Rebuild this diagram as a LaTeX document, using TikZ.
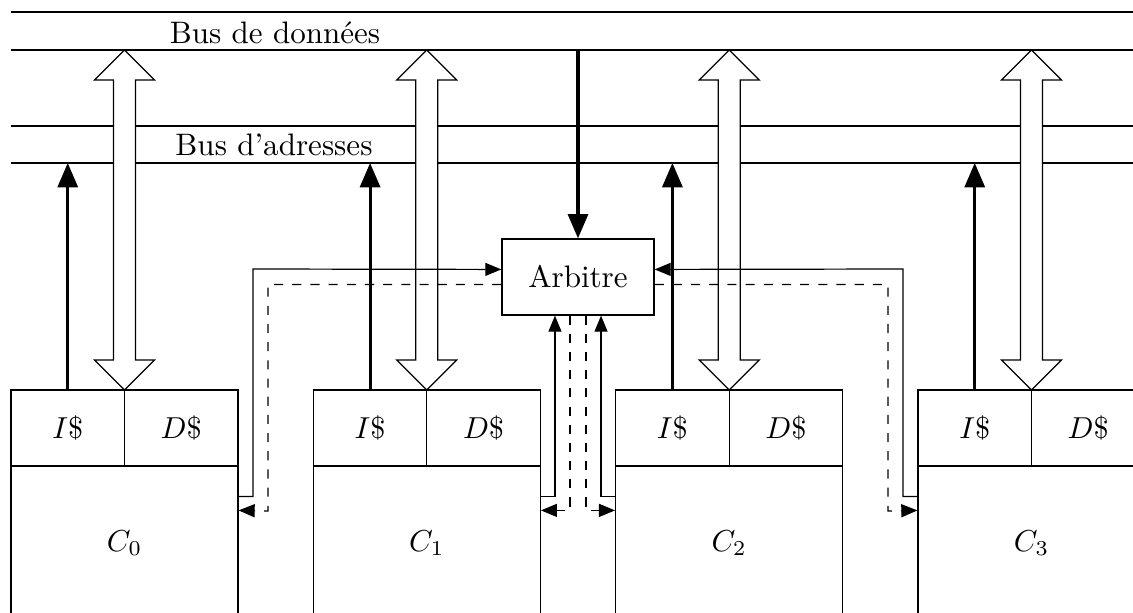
\documentclass[tikz,border=0pt]{standalone}
\usetikzlibrary{arrows.meta,calc}
\begin{document}
\begin{tikzpicture}[x=0.33pt,y=-0.33pt,
  every node/.style={font=\fontsize{10.25pt}{12pt}\selectfont},
  cell/.style={draw, minimum width=37.46pt, minimum height=25.08pt, inner sep=0pt},
  core/.style={draw, minimum width=74.91pt, minimum height=50.82pt, inner sep=0pt},
  bigarrow/.style={draw, fill=white},
  addr/.style={line width=1pt, -{Triangle[length=8pt,width=6.6pt]}},
  ctrl/.style={-{Triangle[length=5.3pt,width=4.3pt]}},
  buslabel/.style={anchor=base, inner sep=0pt}]
\useasboundingbox (0,0) rectangle (1133,612);
\clip (0,0) rectangle (1133,612);
\fill[white] (0,0) rectangle (1133,612);

% data bus and address bus
\draw (11,12) -- (1140,12);
\draw (11,50) -- (1140,50);
\draw (11,126) -- (1140,126);
\draw (11,163) -- (1140,163);
\node[buslabel] (dlabel) at (275,43) {Bus de données};
\node[buslabel] (alabel) at (274,155) {Bus d'adresses};
\coordinate (abus) at (0,163);
\coordinate (dtap) at (578,50);

% arbiter
\node[draw, minimum width=50.2pt, minimum height=25.1pt] (arb) at (578,277) {Arbitre};

% four cores with their instruction and data caches
\foreach \i in {0,...,3} {
  \pgfmathsetmacro\L{11+302.33*\i}
  \node[cell] (I\i) at (\L+56.75,428) {$I\$$};
  \node[cell] (D\i) at (\L+170.25,428) {$D\$$};
  \node[core] (C\i) at (\L+113.5,543) {$C_\i$};
  % data bus link
  \draw[bigarrow] (\L+113.5,50) -- ++(30,30) -- ++(-19,0) -- ++(0,280) -- ++(19,0)
    -- ++(-30,30) -- ++(-30,-30) -- ++(19,0) -- ++(0,-280) -- ++(-19,0) -- cycle;
  % address bus link
  \draw[addr] (I\i.north) -- (I\i.north |- abus);
}

% arbiter fed from the data bus
\draw[addr] (dtap) -- (arb.north);

% requests (solid) and grants (dashed)
\draw[ctrl] ($(C0.north east)+(0,31)$) -| (253,269) -- ([yshift=2.5pt]arb.west);
\draw[ctrl,dashed] ([yshift=-2.5pt]arb.west) -| (268,511) -- ($(C0.north east)+(0,45)$);

\draw[ctrl] ($(C1.north east)+(0,31)$) -| ([xshift=-7.6pt]arb.south);
\draw[ctrl,dashed] ([xshift=-2.64pt]arb.south) |- ($(C1.north east)+(0,45)$);
\draw[ctrl,dashed] ([xshift=2.64pt]arb.south) |- ($(C2.north west)+(0,45)$);
\draw[ctrl] ($(C2.north west)+(0,31)$) -| ([xshift=7.6pt]arb.south);

\draw[ctrl] ($(C3.north west)+(0,31)$) -| (903,269) -- ([yshift=2.5pt]arb.east);
\draw[ctrl,dashed] ([yshift=-2.5pt]arb.east) -| (888,511) -- ($(C3.north west)+(0,45)$);
\end{tikzpicture}
\end{document}
